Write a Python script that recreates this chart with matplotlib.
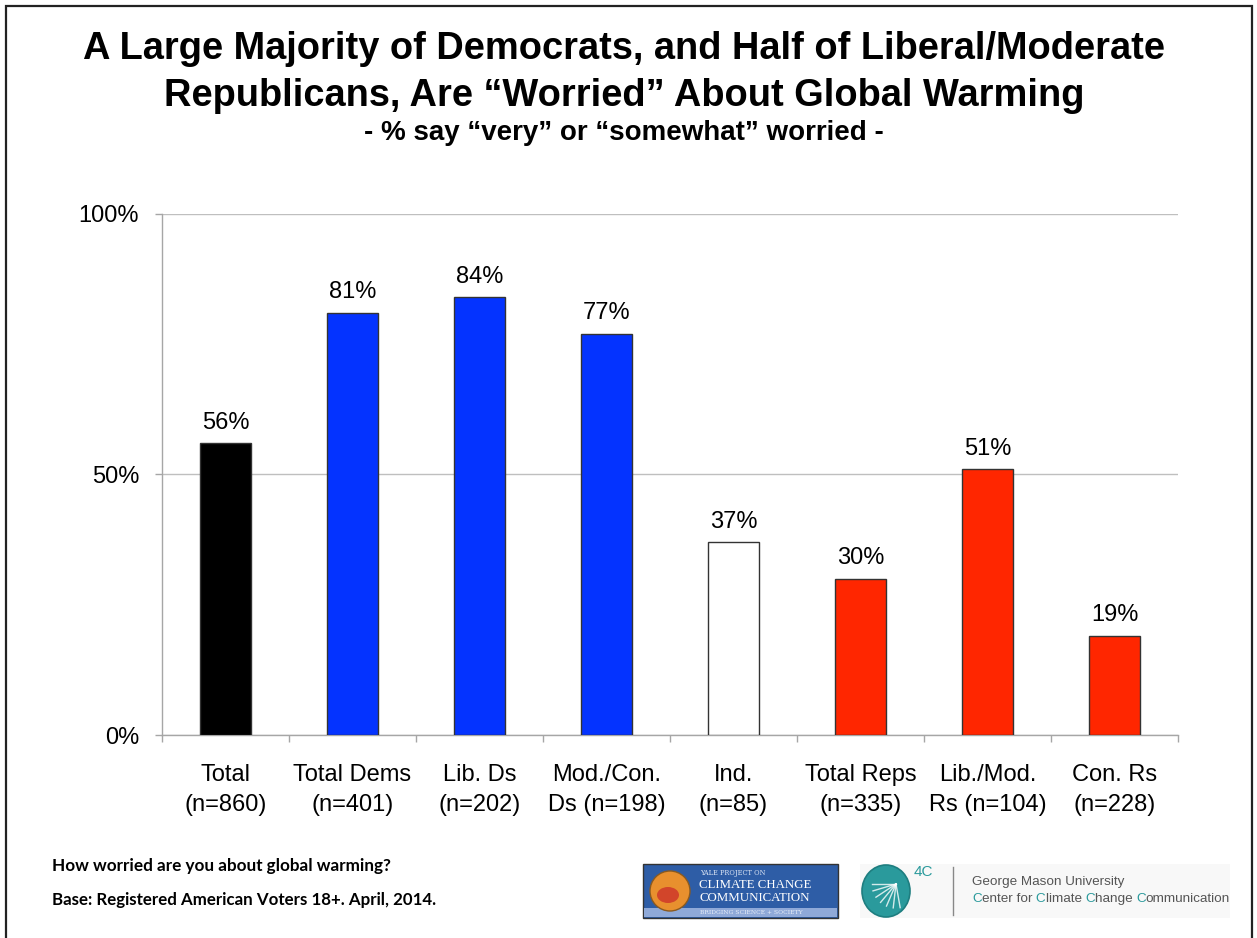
import numpy as np
import matplotlib
matplotlib.use("Agg")
import matplotlib.pyplot as plt
from matplotlib.patches import Rectangle, Circle, Ellipse

# ── Data ──────────────────────────────────────────────────────────────────────
groups = ["Total", "Total Dems", "Lib. Ds", "Mod./Con.", "Ind.",
          "Total Reps", "Lib./Mod.", "Con. Rs"]
sub_labels = ["(n=860)", "(n=401)", "(n=202)", "Ds (n=198)", "(n=85)",
              "(n=335)", "Rs (n=104)", "(n=228)"]
worried_pct = [56, 81, 84, 77, 37, 30, 51, 19]
bar_colors = ["#000000", "#0433FF", "#0433FF", "#0433FF", "#FFFFFF",
              "#FF2600", "#FF2600", "#FF2600"]

W, H = 1257, 938
plt.rcParams["font.family"] = ["Liberation Sans", "DejaVu Sans"]


def fx(x):
    return x / W


def fy(y):
    return 1 - y / H


fig = plt.figure(figsize=(W / 100, H / 100), dpi=100)
fig.patch.set_facecolor("white")

# slide frame
fig.patches.append(Rectangle((fx(6), -0.02), fx(1252) - fx(6), fy(6) + 0.02,
                             transform=fig.transFigure, fill=False,
                             edgecolor="#222222", lw=1.6))

# ── Titles ────────────────────────────────────────────────────────────────────
fig.text(fx(624), fy(49), "A Large Majority of Democrats, and Half of Liberal/Moderate",
         ha="center", va="center", fontsize=27.4, fontweight="bold")
fig.text(fx(624), fy(96), "Republicans, Are \u201cWorried\u201d About Global Warming",
         ha="center", va="center", fontsize=27.4, fontweight="bold")
fig.text(fx(624), fy(133), "- % say \u201cvery\u201d or \u201csomewhat\u201d worried -",
         ha="center", va="center", fontsize=20, fontweight="bold")

# ── Bar chart ─────────────────────────────────────────────────────────────────
ax = fig.add_axes([fx(162), fy(735), fx(1178) - fx(162), fy(214) - fy(735)])
x = np.arange(len(groups))
bars = ax.bar(x, worried_pct, width=0.4, color=bar_colors,
              edgecolor="#333333", linewidth=1.0, zorder=3)

for b, v in zip(bars, worried_pct):
    ax.annotate(f"{v}%", (b.get_x() + b.get_width() / 2, v),
                xytext=(0, 7), textcoords="offset points",
                ha="center", va="bottom", fontsize=17)

ax.set_xlim(-0.5, len(groups) - 0.5)
ax.set_ylim(0, 100)
ax.set_yticks([0, 50, 100])
ax.set_yticklabels(["0%", "50%", "100%"], fontsize=17)
ax.yaxis.grid(True, color="#BFBFBF", lw=1.0, zorder=0)
ax.set_xticks(x)
ax.set_xticklabels([f"{g}\n{s}" for g, s in zip(groups, sub_labels)],
                   fontsize=17, linespacing=1.45)
ax.set_xticks(np.arange(-0.5, len(groups), 1.0), minor=True)
ax.tick_params(axis="x", which="major", length=0, pad=21)
ax.tick_params(axis="x", which="minor", length=5, color="#A6A6A6", width=1)
ax.tick_params(axis="y", length=5, color="#A6A6A6", width=1, pad=11.5)
for s in ["top", "right"]:
    ax.spines[s].set_visible(False)
for s in ["left", "bottom"]:
    ax.spines[s].set_color("#A6A6A6")
    ax.spines[s].set_linewidth(1.0)

# ── Footer notes ──────────────────────────────────────────────────────────────
fig.text(fx(52), fy(866), "How worried are you about global warming?",
         ha="left", va="center", fontsize=12.3, fontweight="bold", family="Lato")
fig.text(fx(52), fy(900), "Base: Registered American Voters 18+. April, 2014.",
         ha="left", va="center", fontsize=12.2, fontweight="bold", family="Lato")

# ── Logos (drawn approximations) ──────────────────────────────────────────────
lg = fig.add_axes([0, 0, 1, 1], zorder=5)
lg.set_xlim(0, W)
lg.set_ylim(H, 0)
lg.axis("off")

# Yale Project on Climate Change Communication
lg.add_patch(Rectangle((643, 864), 195, 54, facecolor="#2E5DA6",
                       edgecolor="#333333", lw=1))
lg.add_patch(Rectangle((644, 908), 193, 9, facecolor="#8FA9D8", lw=0))
lg.add_patch(Circle((670, 891), 20, facecolor="#E8902E", edgecolor="#8A5A20", lw=1))
lg.add_patch(Ellipse((668, 895), 22, 16, facecolor="#D2452A", lw=0))
lg.text(700, 873, "YALE PROJECT ON", fontsize=4.8, color="#DDE6F5",
        family="DejaVu Serif", va="center")
lg.text(699, 885, "CLIMATE CHANGE", fontsize=9.3, color="white",
        family="Liberation Serif", va="center")
lg.text(699, 898, "COMMUNICATION", fontsize=9.3, color="white",
        family="Liberation Serif", va="center")
lg.text(700, 913, "BRIDGING SCIENCE + SOCIETY", fontsize=4.3, color="#E8EEF8",
        family="DejaVu Serif", va="center")

# GMU 4C
teal = "#2A9A9C"
lg.add_patch(Rectangle((860, 864), 370, 54, facecolor="#F8F8F8", lw=0))
lg.add_patch(Ellipse((886, 891), 48, 52, facecolor=teal, edgecolor="#1E7E80", lw=1.2))
for t in np.linspace(0, 100, 7):
    r = np.deg2rad(t)
    lg.plot([896, 896 - 24 * np.cos(r)], [884, 884 + 24 * np.sin(r)],
            color="white", lw=1.0, alpha=0.8)
lg.text(914, 872, "4C", fontsize=11, color=teal, va="center")
lg.plot([953, 953], [867, 915], color="#888888", lw=1)
lg.text(972, 882, "George Mason University", fontsize=9.7, color="#555555",
        va="center")

segments = [("C", teal), ("enter for ", "#555555"), ("C", teal),
            ("limate ", "#555555"), ("C", teal), ("hange ", "#555555"),
            ("C", teal), ("ommunication", "#555555")]
prev = lg.text(972, 899, segments[0][0], fontsize=9.7, color=segments[0][1],
               va="center")
for seg, col in segments[1:]:
    prev = lg.annotate(seg, xy=(1, 0), xycoords=prev, ha="left", va="bottom",
                       fontsize=9.7, color=col)

fig.savefig("out.png", dpi=100, facecolor="white")
